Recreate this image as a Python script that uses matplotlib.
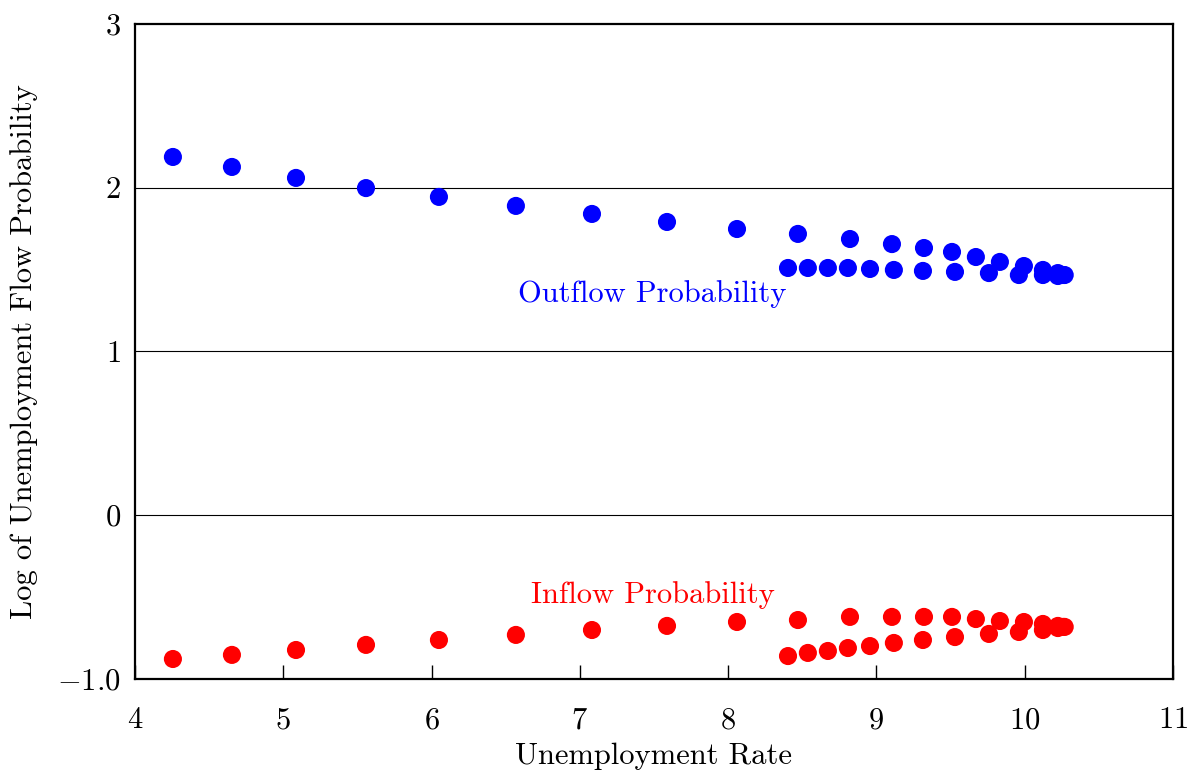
import matplotlib
matplotlib.use("Agg")
import matplotlib.pyplot as plt

plt.rcParams['font.family'] = 'cmr10'
plt.rcParams['mathtext.fontset'] = 'cm'
plt.rcParams['axes.unicode_minus'] = False
plt.rcParams['axes.formatter.use_mathtext'] = True

# unemployment rate (x) for each observation
urate = [4.256, 4.654, 5.086, 5.558, 6.050, 6.569, 7.082, 7.588, 8.060,
         8.404, 8.471, 8.538, 8.673, 8.808, 8.822, 8.957, 9.105, 9.118,
         9.314, 9.321, 9.510, 9.530, 9.671, 9.759, 9.833, 9.961, 9.995,
         10.123, 10.123, 10.224, 10.224, 10.258, 10.270]

# log outflow probability
outflow = [2.188, 2.127, 2.060, 1.998, 1.944, 1.889, 1.840, 1.791, 1.748,
           1.510, 1.718, 1.510, 1.510, 1.510, 1.687, 1.504, 1.656, 1.498,
           1.492, 1.632, 1.608, 1.486, 1.577, 1.479, 1.547, 1.467, 1.522,
           1.498, 1.467, 1.479, 1.461, 1.467, 1.467]

# log inflow probability
inflow = [-0.878, -0.853, -0.823, -0.792, -0.762, -0.731, -0.701, -0.676, -0.652,
          -0.860, -0.640, -0.841, -0.829, -0.811, -0.621, -0.799, -0.621, -0.780,
          -0.762, -0.621, -0.621, -0.744, -0.634, -0.725, -0.646, -0.713, -0.652,
          -0.664, -0.701, -0.676, -0.689, -0.682, -0.682]

xticks = [4, 5, 6, 7, 8, 9, 10, 11]
yticks = [-1, 0, 1, 2, 3]
ytick_labels = ['$-1.0$', '0', '1', '2', '3']

fig = plt.figure(figsize=(11.89, 7.72), dpi=100)
ax = fig.add_axes([0.1135, 0.1205, 0.873, 0.8484])

for y in [0, 1, 2]:
    ax.axhline(y, color='black', linewidth=0.8, zorder=1)

ax.scatter(urate, outflow, s=170, color='#0000ff', edgecolors='none', zorder=3)
ax.scatter(urate, inflow, s=170, color='#ff0000', edgecolors='none', zorder=3)

ax.text(7.49, 1.35, 'Outflow Probability', color='#0000ff', fontsize=22,
        ha='center', va='center')
ax.text(7.49, -0.49, 'Inflow Probability', color='#ff0000', fontsize=22,
        ha='center', va='center')

ax.set_xlim(4, 11)
ax.set_ylim(-1, 3)
ax.set_xticks(xticks)
ax.set_yticks(yticks)
ax.set_yticklabels(ytick_labels)
ax.tick_params(axis='x', direction='in', length=10, width=1.0, labelsize=22, pad=20)
ax.tick_params(axis='y', length=0, labelsize=22, pad=10)
for sp in ax.spines.values():
    sp.set_linewidth(1.6)

ax.set_xlabel('Unemployment Rate', fontsize=22, labelpad=6)
ax.set_ylabel('Log of Unemployment Flow Probability', fontsize=22, labelpad=14)

fig.savefig('out.png', dpi=100)
